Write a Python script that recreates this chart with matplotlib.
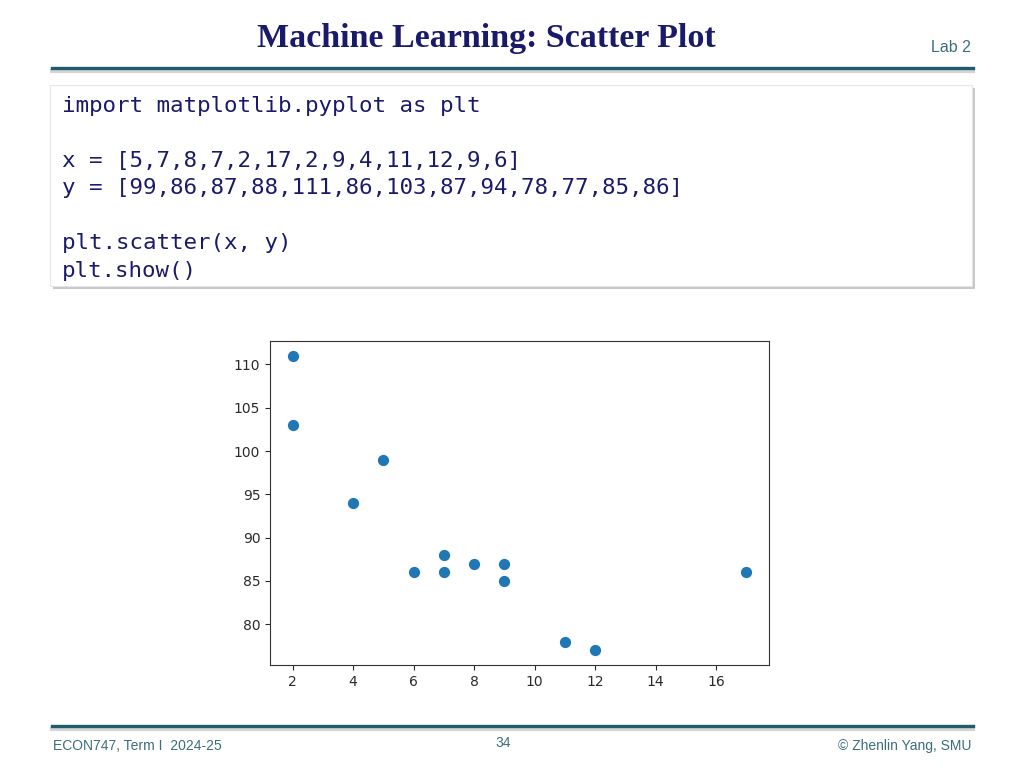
import matplotlib
matplotlib.use("Agg")
import matplotlib.pyplot as plt
import matplotlib.patches as mpatches
from matplotlib.lines import Line2D

W, H = 1024, 768

# data shown in the slide
x = [5, 7, 8, 7, 2, 17, 2, 9, 4, 11, 12, 9, 6]
y = [99, 86, 87, 88, 111, 86, 103, 87, 94, 78, 77, 85, 86]

code_lines = [
    "import matplotlib.pyplot as plt",
    "",
    "x = [5,7,8,7,2,17,2,9,4,11,12,9,6]",
    "y = [99,86,87,88,111,86,103,87,94,78,77,85,86]",
    "",
    "plt.scatter(x, y)",
    "plt.show()",
]

TITLE = "Machine Learning: Scatter Plot"
NAVY = "#1a1a6b"
TEAL = "#1f5c6c"
TEAL_TXT = "#3b6e7c"


def fx(px):
    return px / W


def fy(py):
    return 1 - py / H


fig = plt.figure(figsize=(W / 100, H / 100), dpi=100)
fig.patch.set_facecolor("white")

# ─── header ───────────────────────────────────────────────────────────────
fig.text(fx(486), fy(38), TITLE, ha="center", va="center",
         fontsize=24.5, fontweight="bold", family="Liberation Serif", color=NAVY)
fig.text(fx(971), fy(48), "Lab 2", ha="right", va="center",
         fontsize=11.5, family="Liberation Sans", color=TEAL_TXT)

# rule + soft shadow
fig.add_artist(Line2D([fx(52), fx(973)], [fy(71), fy(71)], color="#d4d4d4",
                      lw=3, transform=fig.transFigure))
fig.add_artist(Line2D([fx(52), fx(973)], [fy(68), fy(68)], color=TEAL,
                      lw=2.4, transform=fig.transFigure))

# ─── code box ─────────────────────────────────────────────────────────────
bx0, bx1, by0, by1 = 50, 972, 85, 286
fig.add_artist(mpatches.Rectangle((fx(bx0 + 3), fy(by1 + 3)), fx(bx1 - bx0), (by1 - by0) / H,
                                  transform=fig.transFigure, facecolor="#c8c8c8",
                                  edgecolor="none"))
fig.add_artist(mpatches.Rectangle((fx(bx0), fy(by1)), fx(bx1 - bx0), (by1 - by0) / H,
                                  transform=fig.transFigure, facecolor="white",
                                  edgecolor="#e6e6e6", lw=0.8))

line_y0, line_step = 105.5, 27.5
for i, line in enumerate(code_lines):
    if line:
        fig.text(fx(62), fy(line_y0 + i * line_step), line, ha="left", va="center",
                 fontsize=16.2, family="DejaVu Sans Mono", color=NAVY)

# ─── scatter chart ────────────────────────────────────────────────────────
ax = fig.add_axes([fx(270), fy(665), fx(769 - 270), (665 - 341) / H])
ax.scatter(x, y, s=50, color="#1f77b4")
ax.set_xticks([2, 4, 6, 8, 10, 12, 14, 16])
ax.set_yticks([80, 85, 90, 95, 100, 105, 110])
ax.tick_params(labelsize=10, colors="#2a2a2a", length=3.5)
for sp in ax.spines.values():
    sp.set_color("#333333")
    sp.set_linewidth(0.8)

# ─── footer ───────────────────────────────────────────────────────────────
fig.add_artist(Line2D([fx(52), fx(973)], [fy(729), fy(729)], color="#d4d4d4",
                      lw=3, transform=fig.transFigure))
fig.add_artist(Line2D([fx(52), fx(973)], [fy(726), fy(726)], color=TEAL,
                      lw=2.4, transform=fig.transFigure))
fig.text(fx(53), fy(746), "ECON747, Term I  2024-25", ha="left", va="center",
         fontsize=10, family="Liberation Sans", color=TEAL_TXT)
fig.text(fx(503), fy(743), "34", ha="center", va="center",
         fontsize=10, family="Liberation Sans", color=TEAL_TXT)
fig.text(fx(971), fy(746), "© Zhenlin Yang, SMU", ha="right", va="center",
         fontsize=10, family="Liberation Sans", color=TEAL_TXT)

fig.savefig("out.png", dpi=100, facecolor="white")
